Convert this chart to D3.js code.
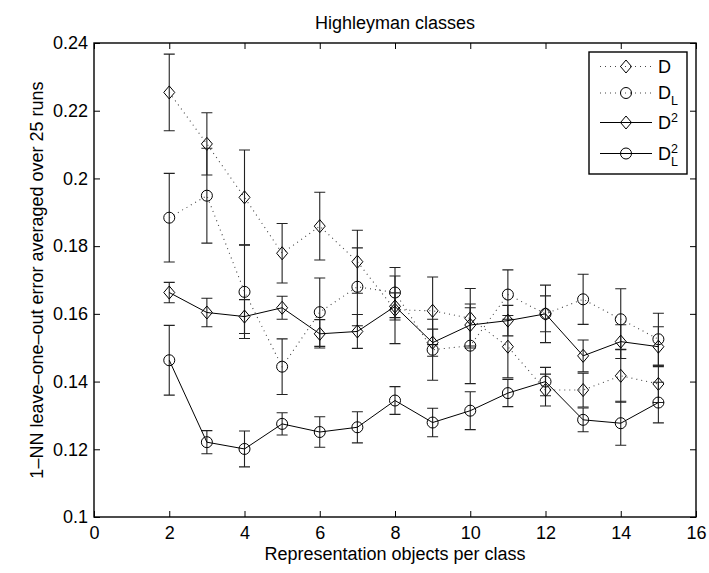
<!DOCTYPE html>
<html>
<head>
<meta charset="utf-8">
<script src="https://cdn.jsdelivr.net/npm/d3@7"></script>
<style>
  body { margin: 0; background: #fff; }
  svg text { font-family: "Liberation Sans", Arial, sans-serif; fill: #000; }
  .axis path { display: none; }
  .axis line { stroke: #000; stroke-width: 1; }
</style>
</head>
<body>
<div id="stage_id"></div>
<script>
// objects per class (x values)
var objectsPerClass = [2, 3, 4, 5, 6, 7, 8, 9, 10, 11, 12, 13, 14, 15];

// mean leave-one-out error + error bar half height, one pair per curve
var errD      = [0.2254, 0.2102, 0.1944, 0.1779, 0.1859, 0.1754, 0.1612, 0.1609, 0.1587, 0.1503, 0.1375, 0.1375, 0.1417, 0.1393];
var barD      = [0.0113, 0.0092, 0.0140, 0.0088, 0.0100, 0.0093, 0.0100, 0.0100, 0.0088, 0.0092, 0.0047, 0.0050, 0.0078, 0.0055];
var errDL     = [0.1884, 0.1949, 0.1665, 0.1444, 0.1605, 0.1680, 0.1663, 0.1494, 0.1506, 0.1657, 0.1600, 0.1643, 0.1584, 0.1525];
var barDL     = [0.0131, 0.0140, 0.0138, 0.0082, 0.0101, 0.0115, 0.0074, 0.0090, 0.0112, 0.0073, 0.0085, 0.0074, 0.0090, 0.0077];
var errD2     = [0.1663, 0.1604, 0.1592, 0.1618, 0.1541, 0.1548, 0.1622, 0.1515, 0.1567, 0.1580, 0.1600, 0.1476, 0.1518, 0.1503];
var barD2     = [0.0030, 0.0042, 0.0050, 0.0034, 0.0042, 0.0050, 0.0040, 0.0040, 0.0062, 0.0045, 0.0053, 0.0047, 0.0050, 0.0059];
var errDL2    = [0.1463, 0.1221, 0.1201, 0.1275, 0.1251, 0.1265, 0.1344, 0.1279, 0.1314, 0.1366, 0.1400, 0.1287, 0.1277, 0.1338];
var barDL2    = [0.0103, 0.0034, 0.0053, 0.0033, 0.0045, 0.0046, 0.0041, 0.0042, 0.0056, 0.0040, 0.0042, 0.0035, 0.0065, 0.0060];

var xTicks = [0, 2, 4, 6, 8, 10, 12, 14, 16];
var yTicks = [0.1, 0.12, 0.14, 0.16, 0.18, 0.2, 0.22, 0.24];

var titleText = "Highleyman classes";
var xLabelText = "Representation objects per class";
var yLabelText = "1\u2013NN leave\u2013one\u2013out error averaged over 25 runs";

// curves: name parts for the legend, marker, dotted or solid
var curves = [
  {mean: errD,   bar: barD,   marker: "diamond", dotted: true,  sup: "",  sub: ""},
  {mean: errDL,  bar: barDL,  marker: "circle",  dotted: true,  sup: "",  sub: "L"},
  {mean: errD2,  bar: barD2,  marker: "diamond", dotted: false, sup: "2", sub: ""},
  {mean: errDL2, bar: barDL2, marker: "circle",  dotted: false, sup: "2", sub: "L"}
];

var W = 709, H = 573;
var margin = {top: 43, right: 13, bottom: 56, left: 94};
var width = W - margin.left - margin.right;
var height = H - margin.top - margin.bottom;
var fontSize = 18;

var svg = d3.select("#stage_id").append("svg")
  .attr("width", W).attr("height", H);

var g = svg.append("g")
  .attr("transform", "translate(" + margin.left + "," + margin.top + ")");

var xScale = d3.scaleLinear().domain([0, 16]).range([0, width]);
var yScale = d3.scaleLinear().domain([0.1, 0.24]).range([height, 0]);

//************************************************************
// Axes (matlab style, ticks pointing inwards on all 4 sides)
//************************************************************
var fmtY = function(d){ return d3.format("~g")(d); };

g.append("g").attr("class", "axis")
  .attr("transform", "translate(0," + height + ")")
  .call(d3.axisBottom(xScale).tickValues(xTicks).tickSize(-6).tickPadding(9.5))
  .selectAll("text").style("font-size", fontSize + "px");

g.append("g").attr("class", "axis")
  .call(d3.axisTop(xScale).tickValues(xTicks).tickSize(-6).tickFormat(""));

g.append("g").attr("class", "axis")
  .call(d3.axisLeft(yScale).tickValues(yTicks).tickSize(-6).tickPadding(6).tickFormat(fmtY))
  .selectAll("text").style("font-size", fontSize + "px");

g.append("g").attr("class", "axis")
  .attr("transform", "translate(" + width + ",0)")
  .call(d3.axisRight(yScale).tickValues(yTicks).tickSize(-6).tickFormat(""));

// the axes box
g.append("rect")
  .attr("width", width).attr("height", height)
  .attr("fill", "none").attr("stroke", "#000").attr("stroke-width", 1.4);

//************************************************************
// Curves with error bars
//************************************************************
var line = d3.line()
  .x(function(d){ return xScale(d.x); })
  .y(function(d){ return yScale(d.y); });

var capW = 5.5;

function drawMarker(sel, type, cx, cy){
  if(type == "circle"){
    sel.append("circle").attr("cx", cx).attr("cy", cy).attr("r", 5.5)
      .attr("fill", "none").attr("stroke", "#000").attr("stroke-width", 1);
  } else {
    var dx = 5.5, dy = 6.5;
    sel.append("path")
      .attr("d", "M" + cx + "," + (cy - dy) + "L" + (cx + dx) + "," + cy + "L" + cx + "," + (cy + dy) + "L" + (cx - dx) + "," + cy + "Z")
      .attr("fill", "none").attr("stroke", "#000").attr("stroke-width", 1);
  }
}

curves.forEach(function(c){
  var pts = objectsPerClass.map(function(x, i){ return {x: x, y: c.mean[i], e: c.bar[i]}; });
  var cg = g.append("g");

  // error bars
  pts.forEach(function(p){
    var px = xScale(p.x), y0 = yScale(p.y - p.e), y1 = yScale(p.y + p.e);
    cg.append("path")
      .attr("d", "M" + px + "," + y0 + "V" + y1 +
                 "M" + (px - capW) + "," + y0 + "H" + (px + capW) +
                 "M" + (px - capW) + "," + y1 + "H" + (px + capW))
      .attr("fill", "none").attr("stroke", "#222").attr("stroke-width", 1.1);
  });

  cg.append("path").datum(pts)
    .attr("d", line)
    .attr("fill", "none")
    .attr("stroke", c.dotted ? "#444" : "#000")
    .attr("stroke-width", c.dotted ? 1.1 : 1)
    .attr("stroke-dasharray", c.dotted ? "1,4" : null);

  pts.forEach(function(p){
    drawMarker(cg, c.marker, xScale(p.x), yScale(p.y));
  });
});

//************************************************************
// Title and axis labels
//************************************************************
g.append("text")
  .attr("x", width / 2).attr("y", -14)
  .attr("text-anchor", "middle")
  .style("font-size", fontSize + "px")
  .text(titleText);

g.append("text")
  .attr("x", width / 2).attr("y", height + 43)
  .attr("text-anchor", "middle")
  .style("font-size", fontSize + "px")
  .text(xLabelText);

g.append("text")
  .attr("transform", "translate(" + (-51) + "," + (height / 2) + ") rotate(-90)")
  .attr("text-anchor", "middle")
  .style("font-size", fontSize + "px")
  .text(yLabelText);

//************************************************************
// Legend
//************************************************************
var leg = {x: 589 - margin.left, y: 52 - margin.top, w: 98, h: 122};
var rowsY = [66.5, 93, 122.5, 153.5];

var lg = g.append("g");
lg.append("rect")
  .attr("x", leg.x).attr("y", leg.y).attr("width", leg.w).attr("height", leg.h)
  .attr("fill", "#fff").attr("stroke", "#000").attr("stroke-width", 1.4);

curves.forEach(function(c, i){
  var ry = rowsY[i] - margin.top;
  var x0 = 600 - margin.left, x1 = 652 - margin.left, xm = 626 - margin.left;
  lg.append("line")
    .attr("x1", x0).attr("x2", x1).attr("y1", ry).attr("y2", ry)
    .attr("stroke", c.dotted ? "#444" : "#000")
    .attr("stroke-width", c.dotted ? 1.1 : 1)
    .attr("stroke-dasharray", c.dotted ? "1,4" : null);
  drawMarker(lg, c.marker, xm, ry);

  var tx = 658 - margin.left;
  var t = lg.append("text")
    .attr("x", tx).attr("y", ry + 6)
    .style("font-size", fontSize + "px")
    .text("D");
  var dw = t.node().getComputedTextLength();
  if(c.sup != ""){
    lg.append("text")
      .attr("x", tx + dw).attr("y", ry - 1)
      .style("font-size", "12.5px")
      .text(c.sup);
  }
  if(c.sub != ""){
    lg.append("text")
      .attr("x", tx + dw).attr("y", ry + 12)
      .style("font-size", "12.5px")
      .text(c.sub);
  }
});
</script>
</body>
</html>
